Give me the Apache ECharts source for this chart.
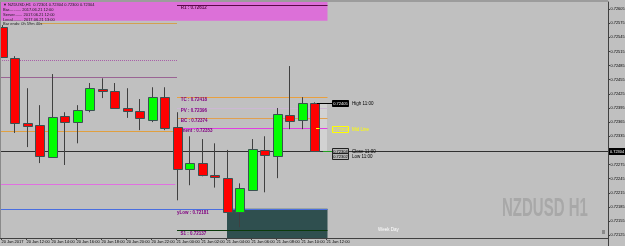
<!DOCTYPE html>
<html>
<head>
<meta charset="utf-8">
<script src="https://cdn.jsdelivr.net/npm/echarts@6/dist/echarts.min.js"></script>
<style>
  html, body { margin: 0; padding: 0; background: #c0c0c0; }
  #main { width: 625px; height: 246px; }
</style>
</head>
<body>
<div id="main"></div>
<script>
// NZDUSD H1，从 20 Jun 10:00 开始的小时K线
const opens  = [0.72567, 0.72501, 0.72363, 0.72359, 0.72291, 0.72378, 0.72365, 0.72391, 0.72435, 0.72431, 0.72395, 0.72388, 0.72369,
                0.72418, 0.72354, 0.72265, 0.72278, 0.72252, 0.72246, 0.72174, 0.72221, 0.72306, 0.72293, 0.72380, 0.72369, 0.72405];
const closes = [0.72503, 0.72363, 0.72357, 0.72293, 0.72376, 0.72365, 0.72391, 0.72437, 0.72432, 0.72395, 0.72389, 0.72374, 0.72418,
                0.72352, 0.72265, 0.72278, 0.72252, 0.72248, 0.72174, 0.72225, 0.72308, 0.72295, 0.72382, 0.72367, 0.72405, 0.72304];
const lows   = [0.72501, 0.72342, 0.72312, 0.72278, 0.72289, 0.72274, 0.72320, 0.72386, 0.72416, 0.72394, 0.72374, 0.72348, 0.72365,
                0.72348, 0.72199, 0.72231, 0.72250, 0.72226, 0.72173, 0.72142, 0.72220, 0.72216, 0.72246, 0.72350, 0.72350, 0.72302];
const highs  = [0.72571, 0.72505, 0.72437, 0.72401, 0.72467, 0.72386, 0.72401, 0.72448, 0.72458, 0.72448, 0.72437, 0.72414, 0.72439,
                0.72439, 0.72386, 0.72335, 0.72329, 0.72320, 0.72306, 0.72235, 0.72329, 0.72335, 0.72395, 0.72484, 0.72418, 0.72407];

// 时间轴标签（每两根K线一个）
const xLabels = ['20 Jun 2017', '20 Jun 12:00', '20 Jun 14:00', '20 Jun 16:00', '20 Jun 18:00', '20 Jun 20:00', '20 Jun 22:00',
                 '21 Jun 00:00', '21 Jun 02:00', '21 Jun 04:00', '21 Jun 06:00', '21 Jun 08:00', '21 Jun 10:00', '21 Jun 12:00'];
const labelSlots = [0, 2, 4, 6, 8, 10, 12, 14, 16, 18, 20, 22, 24, 26];

// 价格刻度
const yTicks = [0.72125, 0.72155, 0.72185, 0.72215, 0.72245, 0.72275, 0.72305, 0.72335, 0.72365,
                0.72395, 0.72425, 0.72455, 0.72485, 0.72515, 0.72545, 0.72575, 0.72605];

// 水平价位线
const levelValues = [0.72613, 0.72575, 0.72497, 0.72461, 0.72418, 0.72396, 0.72374, 0.72353, 0.72346, 0.72233, 0.72181, 0.72137, 0.72304];
const levelFrom   = [14.04, 3.08, -0.12, -0.12, 14.04, 14.04, 14.04, 14.04, -0.12, -0.12, -0.12, 14.04, -0.12];
const levelTo     = [26.08, 14.04, 14.04, 14.04, 26.08, 26.08, 26.08, 26.08, 14.04, 13.9, 26.08, 26.08, 48.52];
const levelTexts  = ['R1 : 0.72612', '', '', '', 'TC : 0.72418', 'PV : 0.72396', 'BC : 0.72374', 'ment : 0.72353',
                     '', '', 'yLow : 0.72181', 'S1 : 0.72137', ''];

// 区块
const zoneFrom   = [-0.12, 18.04, 25.48];
const zoneTo     = [26.08, 26.08, 26.04];
const zoneTop    = [0.7262, 0.72181, 0.72405];
const zoneBottom = [0.72580, 0.72119, 0.72304];

// 右侧价格标签
const tagValues = [0.72405, 0.72353, 0.72304, 0.72302];
const tagTexts  = ['0.72405', '0.72353', '0.72304', '0.72302'];
const tagNames  = ['High 11:00', 'Mid Line', 'Close 11:00', 'Low 11:00'];

const lastPrice = 0.72304;

const X_MIN = -0.12, X_MAX = 48.52;
const Y_MIN = 0.72119, Y_MAX = 0.7262;

const FONT = 'Liberation Sans';

/* 样式（标签位置 lx 为绝对横坐标） */
const levelStyles = [
  { color: '#5a0a46', width: 1, dash: null, text: '#5a0a46', lx: 14.34, dy: 2.5 },
  { color: '#d2a050', width: 1, dash: null },
  { color: '#a860a8', width: 1, dash: [1, 1] },
  { color: '#9a6494', width: 1, dash: null },
  { color: '#e8a040', width: 1, dash: null, text: '#800080', lx: 14.34, dy: 2.5 },
  { color: '#cdb8d4', width: 1, dash: null, text: '#800080', lx: 14.34, dy: 2.5 },
  { color: '#e0a050', width: 1, dash: null, text: '#800080', lx: 14.34, dy: 2.5 },
  { color: '#e040e0', width: 1, dash: null, text: '#800080', lx: 14.39, dy: 2.5 },
  { color: '#e0a040', width: 1, dash: null },
  { color: '#e070e0', width: 1, dash: null },
  { color: '#4a6ee0', width: 1, dash: null, text: '#800080', lx: 14.04, dy: 3.5 },
  { color: '#0a3a0a', width: 1, dash: null, text: '#800080', lx: 14.32, dy: 3 },
  { color: '#303030', width: 1, dash: null }
];
const zoneColors = ['#dc70d8', '#2f4f4f', '#d2d2d2'];
const tagStyles = [
  { bg: '#000000', fg: '#ffffff', border: '#000000', name: '#000000', dy: 0, lead: [25.24, 26.44], leadColor: '#000000' },
  { bg: 'transparent', fg: '#ffff00', border: '#ffff00', name: '#ffff00', dy: 1.5, lead: [25.16, 25.44], leadColor: '#ffff00' },
  { bg: '#b4b4b4', fg: '#000000', border: '#202020', name: '#000000', dy: 0.5, lead: [25.72, 26.44], leadColor: '#20a020' },
  { bg: '#b4b4b4', fg: '#000000', border: '#202020', name: '#000000', dy: 4.5, lead: null }
];

const chart = echarts.init(document.getElementById('main'), null, { renderer: 'canvas' });

function renderCandle(params, api) {
  const x = api.value(0);
  const o = api.value(1), c = api.value(2), l = api.value(3), h = api.value(4);
  const pO = api.coord([x, o]), pC = api.coord([x, c]);
  const pL = api.coord([x, l]), pH = api.coord([x, h]);
  const X = Math.round(pO[0]);
  const top = Math.round(Math.min(pO[1], pC[1]));
  const bot = Math.round(Math.max(pO[1], pC[1]));
  return {
    type: 'group',
    children: [
      { type: 'line', shape: { x1: X + 0.5, y1: pH[1], x2: X + 0.5, y2: pL[1] }, style: { stroke: '#404040', lineWidth: 1 } },
      {
        type: 'rect',
        shape: { x: X - 4 + 0.5, y: top + 0.5, width: 9, height: Math.max(bot - top, 1) },
        style: { fill: c >= o ? '#00ff00' : '#ff0000', stroke: '#3a5252', lineWidth: 1 }
      }
    ]
  };
}

function renderLevel(params, api) {
  const i = api.value(3);
  const st = levelStyles[i];
  const a = api.coord([api.value(0), api.value(1)]);
  const b = api.coord([api.value(2), api.value(1)]);
  const y = Math.round(a[1]) + 0.5;
  const children = [
    { type: 'line', shape: { x1: a[0], y1: y, x2: b[0], y2: y }, style: { stroke: st.color, lineWidth: st.width, lineDash: st.dash } }
  ];
  if (levelTexts[i]) {
    const t = api.coord([st.lx, api.value(1)]);
    children.push({
      type: 'text',
      style: { x: t[0], y: y + st.dy, text: levelTexts[i], fill: st.text, font: 'bold 4.5px ' + FONT, verticalAlign: 'middle', align: 'left' }
    });
  }
  return { type: 'group', children };
}

function renderZone(params, api) {
  const i = api.value(4);
  const a = api.coord([api.value(0), api.value(1)]);
  const b = api.coord([api.value(2), api.value(3)]);
  return {
    type: 'rect',
    shape: { x: a[0], y: a[1], width: b[0] - a[0], height: b[1] - a[1] },
    style: { fill: zoneColors[i] }
  };
}

function renderTag(params, api) {
  const i = api.value(2);
  const st = tagStyles[i];
  const p = api.coord([api.value(0), api.value(1)]);
  const y = Math.round(p[1] + st.dy);
  const children = [];
  if (st.lead) {
    const a = api.coord([st.lead[0], api.value(1)]);
    const b = api.coord([st.lead[1], api.value(1)]);
    const ly = Math.round(b[1]) + 0.5;
    children.push({ type: 'line', shape: { x1: a[0], y1: ly, x2: b[0], y2: ly }, style: { stroke: st.leadColor, lineWidth: 1 } });
  }
  children.push(
    { type: 'rect', shape: { x: Math.round(p[0]) + 0.5, y: y - 3 + 0.5, width: 16, height: 6 }, style: { fill: st.bg, stroke: st.border, lineWidth: 1 } },
    { type: 'text', style: { x: p[0] + 8.5, y: y + 0.5, text: tagTexts[i], fill: st.fg, font: '4px ' + FONT, align: 'center', verticalAlign: 'middle' } },
    { type: 'text', style: { x: p[0] + 20, y: y + 0.5, text: tagNames[i], fill: st.name, font: '4.5px ' + FONT, align: 'left', verticalAlign: 'middle' } }
  );
  return { type: 'group', children };
}

function renderPriceTag(params, api) {
  const p = api.coord([api.value(0), api.value(1)]);
  const y = Math.round(p[1]);
  return {
    type: 'group',
    children: [
      { type: 'rect', shape: { x: p[0] + 1, y: y - 3, width: 17, height: 7 }, style: { fill: '#000000' } },
      { type: 'text', style: { x: p[0] + 2, y: y + 0.5, text: lastPrice.toFixed(5), fill: '#ffffff', font: '3.9px ' + FONT, verticalAlign: 'middle' } }
    ]
  };
}

const headerLines = [
  '\u25BC NZDUSD,H1  0.72301 0.72304 0.72300 0.72304',
  'Bar........... 2017.06.21 12:00',
  'Server....... 2017.06.21 12:00',
  'Local......... 2017.06.21 13:00'
];

const option = {
  backgroundColor: '#c0c0c0',
  animation: false,
  grid: { left: 0, right: 17, top: 2, bottom: 8, outerBoundsMode: 'none' },
  xAxis: {
    type: 'value',
    min: X_MIN,
    max: X_MAX,
    splitLine: { show: false },
    axisLine: { onZero: false, lineStyle: { color: '#404040', width: 1 } },
    axisTick: { customValues: labelSlots, length: 2, lineStyle: { color: '#404040' } },
    axisLabel: {
      customValues: labelSlots,
      formatter: v => xLabels[Math.round(v / 2)] || '',
      fontSize: 4,
      fontFamily: FONT,
      color: '#000000',
      align: 'left',
      margin: 2,
      hideOverlap: false
    }
  },
  yAxis: {
    type: 'value',
    position: 'right',
    min: Y_MIN,
    max: Y_MAX,
    scale: true,
    splitLine: { show: false },
    axisLine: { show: true, onZero: false, lineStyle: { color: '#404040', width: 1 } },
    axisTick: { show: true, customValues: yTicks, length: 2, lineStyle: { color: '#404040' } },
    axisLabel: {
      customValues: yTicks,
      formatter: v => v.toFixed(5),
      fontSize: 3.9,
      fontFamily: FONT,
      color: '#000000',
      margin: 2.5,
      hideOverlap: false
    }
  },
  graphic: [
    { type: 'rect', shape: { x: 0, y: 0, width: 608, height: 2 }, style: { fill: '#9c9c9c' }, z: 10 },
    { type: 'line', shape: { x1: 0.5, y1: 2, x2: 0.5, y2: 238 }, style: { stroke: '#8a8a8a', lineWidth: 1 }, z: 10 },
    { type: 'line', shape: { x1: 608.5, y1: 238, x2: 608.5, y2: 246 }, style: { stroke: '#404040', lineWidth: 1 }, z: 10 },
    ...headerLines.map((t, i) => ({
      type: 'text', z: 10,
      style: { x: 3, y: 4.5 + i * 5, text: t, fill: '#1a1a1a', font: '4px ' + FONT, verticalAlign: 'middle' }
    })),
    { type: 'text', z: 10, style: { x: 3, y: 24, text: 'Bar ends: 0h 59m 40s', fill: '#1a1a1a', font: '4px ' + FONT, verticalAlign: 'middle' } },
    {
      type: 'text', z: 1, x: 502, y: 209, scaleX: 0.6,
      style: { x: 0, y: 0, text: 'NZDUSD H1', fill: '#a8a8a8', font: 'bold 25px "Liberation Sans"', verticalAlign: 'middle' }
    },
    { type: 'text', z: 10, style: { x: 378, y: 230, text: 'Week Day', fill: '#ffffff', font: '4.5px ' + FONT, verticalAlign: 'middle' } },
    { type: 'rect', z: 10, shape: { x: 602, y: 230, width: 3, height: 4 }, style: { fill: '#8a8a8a' } }
  ],
  series: [
    {
      type: 'custom', name: 'zones', z: 1, clip: false,
      data: zoneFrom.map((x0, i) => [x0, zoneTop[i], zoneTo[i], zoneBottom[i], i]),
      encode: { x: [0, 2], y: [1, 3] },
      renderItem: renderZone
    },
    {
      type: 'custom', name: 'levels', z: 2, clip: false,
      data: levelValues.map((v, i) => [levelFrom[i], v, levelTo[i], i]),
      encode: { x: [0, 2], y: 1 },
      renderItem: renderLevel
    },
    {
      type: 'custom', name: 'NZDUSD', z: 3, clip: false,
      data: opens.map((o, i) => [i, o, closes[i], lows[i], highs[i]]),
      encode: { x: 0, y: [1, 2, 3, 4] },
      renderItem: renderCandle
    },
    {
      type: 'custom', name: 'tags', z: 4, clip: false,
      data: tagValues.map((v, i) => [26.44, v, i]),
      encode: { x: 0, y: 1 },
      renderItem: renderTag
    },
    {
      type: 'custom', name: 'price', z: 5, clip: false,
      data: [[X_MAX, lastPrice]],
      encode: { x: 0, y: 1 },
      renderItem: renderPriceTag
    }
  ]
};

chart.setOption(option);
</script>
</body>
</html>
